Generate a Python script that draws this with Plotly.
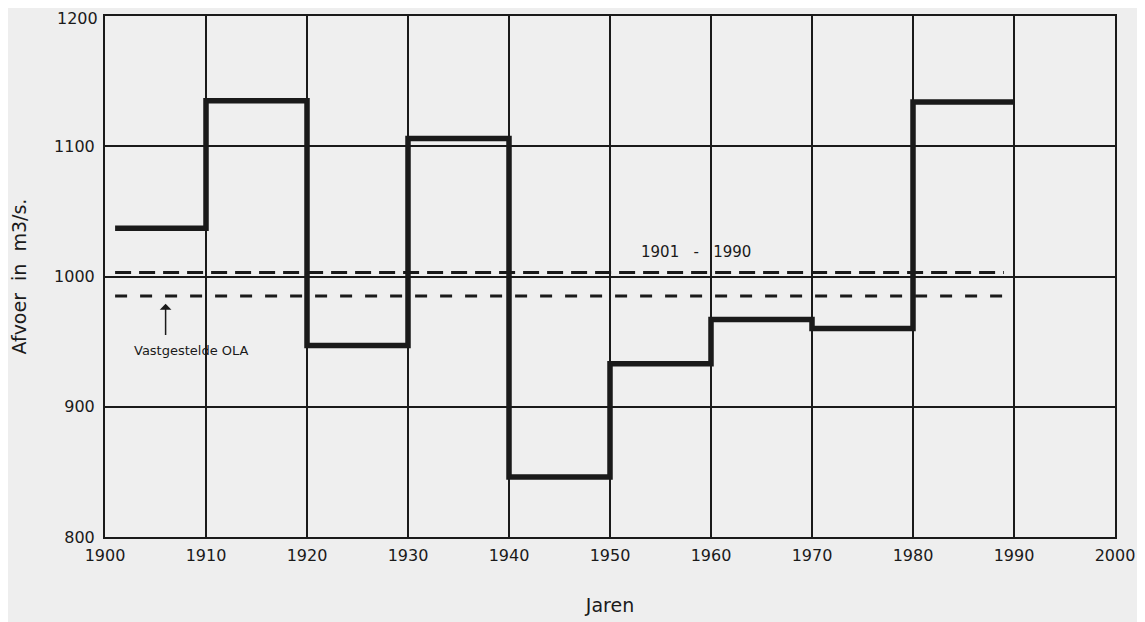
import plotly.graph_objects as go

# Data
decade_starts = [1901, 1910, 1920, 1930, 1940, 1950, 1960, 1970, 1980, 1990]
decade_means = [1037, 1135, 947, 1106, 846, 933, 967, 960, 1134]
mean_1901_1990 = 1003
ola_value = 985
mean_span = [1901, 1989]
x_ticks = [1900, 1910, 1920, 1930, 1940, 1950, 1960, 1970, 1980, 1990, 2000]
y_ticks = [800, 900, 1000, 1100, 1200]

FONT = "DejaVu Sans, sans-serif"
INK = "#1a1a1a"

fig = go.Figure()
fig.add_trace(go.Scatter(
    x=decade_starts, y=decade_means + [decade_means[-1]],
    mode="lines", line=dict(shape="hv", color=INK, width=5.5),
    showlegend=False, hoverinfo="skip"))
fig.add_trace(go.Scatter(
    x=mean_span, y=[mean_1901_1990, mean_1901_1990],
    mode="lines", line=dict(color=INK, width=3, dash="16px,8px"),
    showlegend=False, hoverinfo="skip"))
fig.add_trace(go.Scatter(
    x=mean_span, y=[ola_value, ola_value],
    mode="lines", line=dict(color=INK, width=3, dash="12px,13px"),
    showlegend=False, hoverinfo="skip"))

fig.add_annotation(x=1958.5, y=1019, text="1901\u00a0\u00a0\u00a0-\u00a0\u00a0\u00a01990", showarrow=False,
                   font=dict(family=FONT, size=15, color=INK))
fig.add_annotation(x=1908.6, y=943, text="Vastgestelde OLA", showarrow=False,
                   font=dict(family=FONT, size=13, color=INK))
fig.add_annotation(x=1906, y=979, ax=1906, ay=954, axref="x", ayref="y",
                   text="", showarrow=True, arrowhead=1, arrowsize=1.3,
                   arrowwidth=1.5, arrowcolor=INK)

# Top y tick label drawn as annotation so it stays fully inside the page
y_ticktext = [str(v) for v in y_ticks]
top_label = y_ticktext[-1]
y_ticktext[-1] = ""
fig.add_annotation(x=0, xref="paper", y=y_ticks[-1], yref="y", text=top_label,
                   showarrow=False, xanchor="right", yanchor="middle", xshift=-5, yshift=-2,
                   font=dict(family=FONT, size=16, color=INK))

axis_common = dict(showgrid=True, gridcolor=INK, gridwidth=1.5,
                   showline=True, linecolor=INK, linewidth=2, mirror=True,
                   zeroline=False, ticks="", automargin=False,
                   tickfont=dict(family=FONT, size=16, color=INK))

fig.update_xaxes(range=[1900, 2000], tickvals=x_ticks,
                 title=dict(text="Jaren", font=dict(family=FONT, size=19, color=INK), standoff=34),
                 ticklabelstandoff=3, **axis_common)
fig.update_yaxes(range=[800, 1200], tickvals=y_ticks, ticktext=y_ticktext,
                 title=dict(text="Afvoer\u00a0 in\u00a0 m3/s.", font=dict(family=FONT, size=19, color=INK), standoff=22),
                 ticklabelstandoff=5, **axis_common)

fig.update_layout(
    width=1145, height=622,
    margin=dict(l=97, r=38, t=8, b=93),
    paper_bgcolor="#eeeeee", plot_bgcolor="#efefef",
    font=dict(family=FONT, color=INK),
)

fig.write_html("out.html")
